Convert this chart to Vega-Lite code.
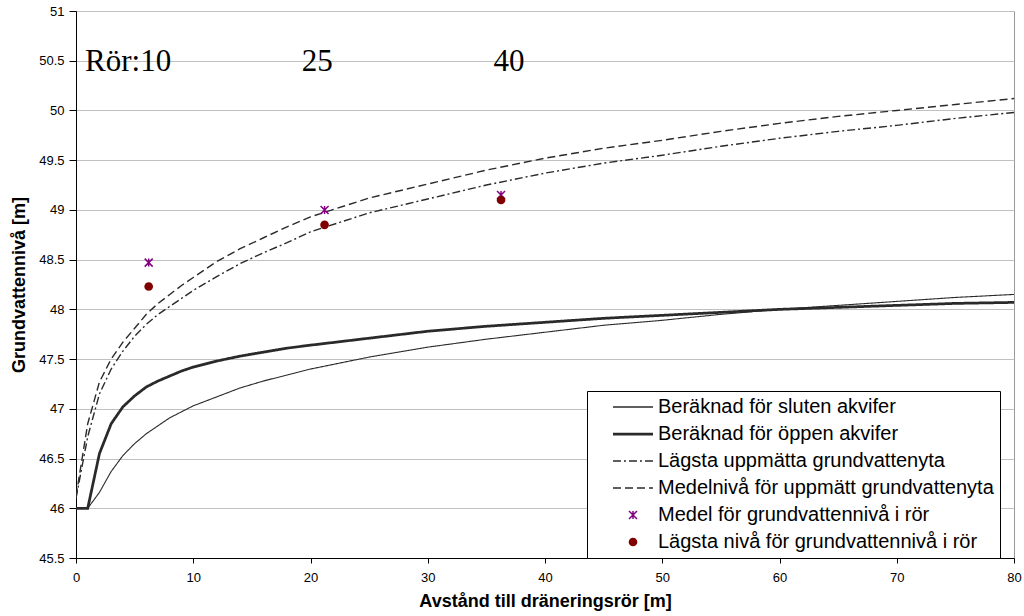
{
  "$schema": "https://vega.github.io/schema/vega-lite/v6.json",
  "width": 938,
  "height": 547,
  "autosize": "none",
  "padding": {"left": 76, "top": 11, "right": 10, "bottom": 58},
  "background": "white",
  "config": {
    "view": {"stroke": "#999999", "strokeWidth": 1},
    "font": "Liberation Sans",
    "axis": {
      "domainColor": "#000000", "tickColor": "#000000", "labelColor": "#000000", "titleColor": "#000000",
      "labelFont": "Liberation Sans", "titleFont": "Liberation Sans",
      "labelFontSize": 13, "titleFontSize": 18, "titleFontWeight": "bold"
    }
  },
  "datasets": {
    "curves": [
      {"s":"Beräknad för sluten akvifer","x":0,"y":46.00},{"s":"Beräknad för sluten akvifer","x":1,"y":46.00},{"s":"Beräknad för sluten akvifer","x":2,"y":46.16},{"s":"Beräknad för sluten akvifer","x":3,"y":46.37},{"s":"Beräknad för sluten akvifer","x":4,"y":46.53},{"s":"Beräknad för sluten akvifer","x":5,"y":46.65},{"s":"Beräknad för sluten akvifer","x":6,"y":46.75},{"s":"Beräknad för sluten akvifer","x":7,"y":46.83},{"s":"Beräknad för sluten akvifer","x":8,"y":46.91},{"s":"Beräknad för sluten akvifer","x":9,"y":46.97},{"s":"Beräknad för sluten akvifer","x":10,"y":47.03},{"s":"Beräknad för sluten akvifer","x":12,"y":47.12},{"s":"Beräknad för sluten akvifer","x":14,"y":47.21},{"s":"Beräknad för sluten akvifer","x":16,"y":47.28},{"s":"Beräknad för sluten akvifer","x":18,"y":47.34},{"s":"Beräknad för sluten akvifer","x":20,"y":47.40},{"s":"Beräknad för sluten akvifer","x":25,"y":47.52},{"s":"Beräknad för sluten akvifer","x":30,"y":47.62},{"s":"Beräknad för sluten akvifer","x":35,"y":47.70},{"s":"Beräknad för sluten akvifer","x":40,"y":47.77},{"s":"Beräknad för sluten akvifer","x":45,"y":47.84},{"s":"Beräknad för sluten akvifer","x":50,"y":47.89},{"s":"Beräknad för sluten akvifer","x":55,"y":47.95},{"s":"Beräknad för sluten akvifer","x":60,"y":48.00},{"s":"Beräknad för sluten akvifer","x":65,"y":48.04},{"s":"Beräknad för sluten akvifer","x":70,"y":48.08},{"s":"Beräknad för sluten akvifer","x":75,"y":48.12},{"s":"Beräknad för sluten akvifer","x":80,"y":48.15},
      {"s":"Beräknad för öppen akvifer","x":0,"y":46.00},{"s":"Beräknad för öppen akvifer","x":1,"y":46.00},{"s":"Beräknad för öppen akvifer","x":2,"y":46.55},{"s":"Beräknad för öppen akvifer","x":3,"y":46.85},{"s":"Beräknad för öppen akvifer","x":4,"y":47.02},{"s":"Beräknad för öppen akvifer","x":5,"y":47.13},{"s":"Beräknad för öppen akvifer","x":6,"y":47.22},{"s":"Beräknad för öppen akvifer","x":7,"y":47.28},{"s":"Beräknad för öppen akvifer","x":8,"y":47.33},{"s":"Beräknad för öppen akvifer","x":9,"y":47.38},{"s":"Beräknad för öppen akvifer","x":10,"y":47.42},{"s":"Beräknad för öppen akvifer","x":12,"y":47.48},{"s":"Beräknad för öppen akvifer","x":14,"y":47.53},{"s":"Beräknad för öppen akvifer","x":16,"y":47.57},{"s":"Beräknad för öppen akvifer","x":18,"y":47.61},{"s":"Beräknad för öppen akvifer","x":20,"y":47.64},{"s":"Beräknad för öppen akvifer","x":25,"y":47.71},{"s":"Beräknad för öppen akvifer","x":30,"y":47.78},{"s":"Beräknad för öppen akvifer","x":35,"y":47.83},{"s":"Beräknad för öppen akvifer","x":40,"y":47.87},{"s":"Beräknad för öppen akvifer","x":45,"y":47.91},{"s":"Beräknad för öppen akvifer","x":50,"y":47.94},{"s":"Beräknad för öppen akvifer","x":55,"y":47.97},{"s":"Beräknad för öppen akvifer","x":60,"y":48.00},{"s":"Beräknad för öppen akvifer","x":65,"y":48.02},{"s":"Beräknad för öppen akvifer","x":70,"y":48.04},{"s":"Beräknad för öppen akvifer","x":75,"y":48.06},{"s":"Beräknad för öppen akvifer","x":80,"y":48.07},
      {"s":"Lägsta uppmätta grundvattenyta","x":0,"y":46.10},{"s":"Lägsta uppmätta grundvattenyta","x":1,"y":46.72},{"s":"Lägsta uppmätta grundvattenyta","x":2,"y":47.15},{"s":"Lägsta uppmätta grundvattenyta","x":3,"y":47.40},{"s":"Lägsta uppmätta grundvattenyta","x":4,"y":47.58},{"s":"Lägsta uppmätta grundvattenyta","x":5,"y":47.73},{"s":"Lägsta uppmätta grundvattenyta","x":6,"y":47.85},{"s":"Lägsta uppmätta grundvattenyta","x":7,"y":47.95},{"s":"Lägsta uppmätta grundvattenyta","x":8,"y":48.03},{"s":"Lägsta uppmätta grundvattenyta","x":9,"y":48.11},{"s":"Lägsta uppmätta grundvattenyta","x":10,"y":48.19},{"s":"Lägsta uppmätta grundvattenyta","x":12,"y":48.33},{"s":"Lägsta uppmätta grundvattenyta","x":14,"y":48.46},{"s":"Lägsta uppmätta grundvattenyta","x":16,"y":48.57},{"s":"Lägsta uppmätta grundvattenyta","x":18,"y":48.67},{"s":"Lägsta uppmätta grundvattenyta","x":20,"y":48.78},{"s":"Lägsta uppmätta grundvattenyta","x":25,"y":48.97},{"s":"Lägsta uppmätta grundvattenyta","x":30,"y":49.11},{"s":"Lägsta uppmätta grundvattenyta","x":35,"y":49.25},{"s":"Lägsta uppmätta grundvattenyta","x":40,"y":49.37},{"s":"Lägsta uppmätta grundvattenyta","x":45,"y":49.47},{"s":"Lägsta uppmätta grundvattenyta","x":50,"y":49.55},{"s":"Lägsta uppmätta grundvattenyta","x":55,"y":49.64},{"s":"Lägsta uppmätta grundvattenyta","x":60,"y":49.72},{"s":"Lägsta uppmätta grundvattenyta","x":65,"y":49.79},{"s":"Lägsta uppmätta grundvattenyta","x":70,"y":49.85},{"s":"Lägsta uppmätta grundvattenyta","x":75,"y":49.92},{"s":"Lägsta uppmätta grundvattenyta","x":80,"y":49.98},
      {"s":"Medelnivå för uppmätt grundvattenyta","x":0,"y":46.12},{"s":"Medelnivå för uppmätt grundvattenyta","x":1,"y":46.85},{"s":"Medelnivå för uppmätt grundvattenyta","x":2,"y":47.27},{"s":"Medelnivå för uppmätt grundvattenyta","x":3,"y":47.50},{"s":"Medelnivå för uppmätt grundvattenyta","x":4,"y":47.67},{"s":"Medelnivå för uppmätt grundvattenyta","x":5,"y":47.81},{"s":"Medelnivå för uppmätt grundvattenyta","x":6,"y":47.95},{"s":"Medelnivå för uppmätt grundvattenyta","x":7,"y":48.06},{"s":"Medelnivå för uppmätt grundvattenyta","x":8,"y":48.15},{"s":"Medelnivå för uppmätt grundvattenyta","x":9,"y":48.24},{"s":"Medelnivå för uppmätt grundvattenyta","x":10,"y":48.32},{"s":"Medelnivå för uppmätt grundvattenyta","x":12,"y":48.48},{"s":"Medelnivå för uppmätt grundvattenyta","x":14,"y":48.61},{"s":"Medelnivå för uppmätt grundvattenyta","x":16,"y":48.72},{"s":"Medelnivå för uppmätt grundvattenyta","x":18,"y":48.83},{"s":"Medelnivå för uppmätt grundvattenyta","x":20,"y":48.93},{"s":"Medelnivå för uppmätt grundvattenyta","x":25,"y":49.12},{"s":"Medelnivå för uppmätt grundvattenyta","x":30,"y":49.26},{"s":"Medelnivå för uppmätt grundvattenyta","x":35,"y":49.40},{"s":"Medelnivå för uppmätt grundvattenyta","x":40,"y":49.52},{"s":"Medelnivå för uppmätt grundvattenyta","x":45,"y":49.62},{"s":"Medelnivå för uppmätt grundvattenyta","x":50,"y":49.70},{"s":"Medelnivå för uppmätt grundvattenyta","x":55,"y":49.79},{"s":"Medelnivå för uppmätt grundvattenyta","x":60,"y":49.87},{"s":"Medelnivå för uppmätt grundvattenyta","x":65,"y":49.94},{"s":"Medelnivå för uppmätt grundvattenyta","x":70,"y":50.00},{"s":"Medelnivå för uppmätt grundvattenyta","x":75,"y":50.06},{"s":"Medelnivå för uppmätt grundvattenyta","x":80,"y":50.12}
    ],
    "stars": [
      {"s":"Medel för grundvattennivå i rör","x":6.2,"y":48.47},
      {"s":"Medel för grundvattennivå i rör","x":21.2,"y":49.0},
      {"s":"Medel för grundvattennivå i rör","x":36.25,"y":49.15}
    ],
    "dots": [
      {"s":"Lägsta nivå för grundvattennivå i rör","x":6.2,"y":48.23},
      {"s":"Lägsta nivå för grundvattennivå i rör","x":21.2,"y":48.85},
      {"s":"Lägsta nivå för grundvattennivå i rör","x":36.25,"y":49.10}
    ],
    "labels": [
      {"label":"Rör:10","x":0.77,"y":50.4},
      {"label":"25","x":19.25,"y":50.4},
      {"label":"40","x":35.6,"y":50.4}
    ]
  },
  "layer": [
    {
      "data": {"name": "curves"},
      "mark": {"type": "line", "clip": true},
      "encoding": {
        "x": {"field": "x", "type": "quantitative", "scale": {"domain": [0, 80], "nice": false, "zero": false},
          "axis": {"title": "Avstånd till dräneringsrör [m]", "values": [0,10,20,30,40,50,60,70,80], "grid": false, "tickSize": 5, "labelPadding": 8, "titlePadding": 8, "labelFlush": false}},
        "y": {"field": "y", "type": "quantitative", "scale": {"domain": [45.5, 51], "nice": false, "zero": false},
          "axis": {"title": "Grundvattennivå [m]", "values": [45.5,46,46.5,47,47.5,48,48.5,49,49.5,50,50.5,51], "format": "~g", "grid": true, "gridColor": "#c0c0c0", "tickSize": 7, "labelPadding": 5, "titlePadding": 10, "labelFlush": false}},
        "detail": {"field": "s"},
        "color": {"field": "s", "type": "nominal",
          "scale": {"domain": ["Beräknad för sluten akvifer","Beräknad för öppen akvifer","Lägsta uppmätta grundvattenyta","Medelnivå för uppmätt grundvattenyta","Medel för grundvattennivå i rör","Lägsta nivå för grundvattennivå i rör"],
                    "range": ["#2a2a2a","#2a2a2a","#2a2a2a","#2a2a2a","#800080","#800000"]},
          "legend": {
            "title": null, "orient": "none", "legendX": 511, "legendY": 380,
            "strokeColor": "#000000", "fillColor": "#ffffff", "padding": 6,
            "labelFont": "Liberation Sans", "labelFontSize": 20, "labelColor": "#000000",
            "symbolSize": 64, "symbolOffset": 30, "labelOffset": 15, "rowPadding": 7, "labelLimit": 600,
            "encode": {"symbols": {"update": {
              "shape": {"signal": "datum.index < 4 ? 'M-5,0L5,0' : (datum.index == 4 ? 'M-1,-1L1,1M-1,1L1,-1M0,-1L0,1' : 'circle')"},
              "size": {"signal": "datum.index == 5 ? 75 : 64"},
              "strokeDash": {"signal": "datum.index == 2 ? [8,3,2,3] : (datum.index == 3 ? [8,4] : [])"},
              "strokeWidth": {"signal": "datum.index == 1 ? 2.75 : (datum.index == 4 ? 1.5 : (datum.index == 5 ? 0 : 1.3))"},
              "stroke": {"signal": "datum.index == 4 ? '#800080' : (datum.index == 5 ? '#800000' : '#2a2a2a')"},
              "fill": {"signal": "datum.index == 5 ? '#800000' : 'transparent'"},
              "opacity": {"value": 1}
            }}}
          }},
        "strokeDash": {"field": "s", "type": "nominal", "legend": null,
          "scale": {"type": "ordinal", "domain": ["Beräknad för sluten akvifer","Beräknad för öppen akvifer","Lägsta uppmätta grundvattenyta","Medelnivå för uppmätt grundvattenyta"],
                    "range": [[1,0],[1,0],[8,3,2,3],[8,4]]}},
        "strokeWidth": {"field": "s", "type": "nominal", "legend": null,
          "scale": {"type": "ordinal", "domain": ["Beräknad för sluten akvifer","Beräknad för öppen akvifer","Lägsta uppmätta grundvattenyta","Medelnivå för uppmätt grundvattenyta"],
                    "range": [1.1, 2.75, 1.4, 1.4]}}
      }
    },
    {
      "data": {"name": "stars"},
      "mark": {"type": "point", "shape": "M-1,-1L1,1M-1,1L1,-1M0,-1L0,1", "filled": false, "size": 64, "strokeWidth": 1.5, "opacity": 1},
      "encoding": {
        "x": {"field": "x", "type": "quantitative"},
        "y": {"field": "y", "type": "quantitative"},
        "color": {"field": "s", "type": "nominal"}
      }
    },
    {
      "data": {"name": "dots"},
      "mark": {"type": "point", "shape": "circle", "filled": true, "size": 75, "opacity": 1},
      "encoding": {
        "x": {"field": "x", "type": "quantitative"},
        "y": {"field": "y", "type": "quantitative"},
        "color": {"field": "s", "type": "nominal"}
      }
    },
    {
      "data": {"name": "labels"},
      "mark": {"type": "text", "font": "Liberation Serif", "fontSize": 31, "align": "left", "baseline": "alphabetic", "color": "#000000"},
      "encoding": {
        "x": {"field": "x", "type": "quantitative"},
        "y": {"field": "y", "type": "quantitative"},
        "text": {"field": "label"}
      }
    }
  ]
}
